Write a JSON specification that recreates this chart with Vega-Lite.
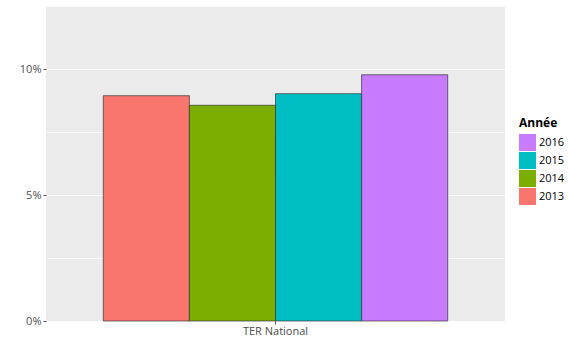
{
  "$schema": "https://vega.github.io/schema/vega-lite/v6.json",
  "width": 459,
  "height": 315,
  "autosize": {"type": "none"},
  "padding": {"left": 46, "top": 6, "right": 64, "bottom": 17},
  "background": "white",
  "config": {
    "font": "Open Sans",
    "view": {"fill": "#EBEBEB", "stroke": null}
  },
  "data": {
    "values": [
      {"zone": "TER National", "annee": "2013", "taux": 0.0894},
      {"zone": "TER National", "annee": "2014", "taux": 0.0856},
      {"zone": "TER National", "annee": "2015", "taux": 0.0902},
      {"zone": "TER National", "annee": "2016", "taux": 0.0977}
    ]
  },
  "mark": {"type": "bar", "stroke": "#333333", "strokeWidth": 0.7},
  "encoding": {
    "x": {
      "field": "zone",
      "type": "nominal",
      "scale": {"paddingInner": 0, "paddingOuter": 0.1664},
      "axis": {
        "title": null,
        "labelAngle": 0,
        "labelColor": "#4d4d4d",
        "labelFontSize": 11,
        "domain": false,
        "tickColor": "#4d4d4d",
        "tickSize": 3,
        "labelPadding": 1,
        "grid": false
      }
    },
    "xOffset": {
      "field": "annee",
      "type": "nominal",
      "sort": ["2013", "2014", "2015", "2016"],
      "scale": {"paddingInner": 0, "paddingOuter": 0}
    },
    "y": {
      "field": "taux",
      "type": "quantitative",
      "scale": {"domain": [0, 0.125], "nice": false, "zero": true},
      "axis": {
        "title": null,
        "values": [0, 0.025, 0.05, 0.075, 0.1, 0.125],
        "format": ".0%",
        "labelExpr": "round(datum.value*1000) % 50 == 0 ? datum.label : ''",
        "labelColor": "#4d4d4d",
        "labelFontSize": 11,
        "labelPadding": 2,
        "domain": false,
        "grid": true,
        "gridColor": "#FFFFFF",
        "gridWidth": {"condition": {"test": "round(datum.value*1000) % 50 == 0", "value": 1.2}, "value": 0.6},
        "tickColor": "#4d4d4d",
        "tickSize": {"condition": {"test": "round(datum.value*1000) % 50 == 0", "value": 3}, "value": 0},
        "tickWidth": 1
      }
    },
    "color": {
      "field": "annee",
      "type": "nominal",
      "scale": {
        "domain": ["2016", "2015", "2014", "2013"],
        "range": ["#C77CFF", "#00BFC4", "#7CAE00", "#F8766D"]
      },
      "legend": {
        "title": "Année",
        "titleFontWeight": "bold",
        "titleFontSize": 12,
        "titleColor": "#000000",
        "titlePadding": 4,
        "labelFontSize": 11,
        "labelColor": "#000000",
        "symbolType": "square",
        "symbolSize": 289,
        "symbolStrokeWidth": 0,
        "symbolOpacity": 1,
        "rowPadding": 1,
        "labelOffset": 3,
        "orient": "none",
        "legendX": 473,
        "legendY": 112
      }
    }
  }
}
